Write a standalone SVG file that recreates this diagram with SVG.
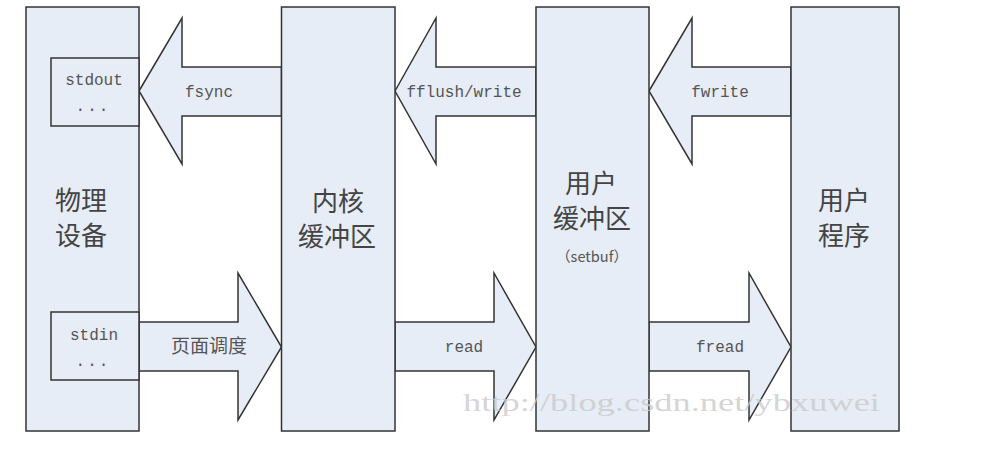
<svg xmlns="http://www.w3.org/2000/svg" width="982" height="456" viewBox="0 0 982 456">
<style>
.box{fill:#e6edf6;stroke:#333;stroke-width:1.5}
.arr{fill:#e6edf6;stroke:#333;stroke-width:1.5;stroke-linejoin:miter}
.lat{font-family:"Liberation Mono",monospace;font-size:16px;fill:#555;text-anchor:middle}
.cjk{font-family:"Noto Sans CJK SC",sans-serif;font-size:26px;fill:#444;text-anchor:middle}
.cjks{font-family:"Noto Sans CJK SC",sans-serif;font-size:19px;fill:#555;text-anchor:middle}
.sb{font-family:"Noto Sans CJK SC",sans-serif;font-size:14.6px;fill:#555;text-anchor:middle}
.wm{font-family:"Liberation Serif",serif;font-size:26px;fill:#cacaca;fill-opacity:0.8}
</style>
<rect width="982" height="456" fill="#fff"/>
<g id="connectors">
<g id="fsync">
<polygon class="arr" points="139,91 182,18 182,67 281.5,67 281.5,116 182,116 182,164"/>
<text class="lat" x="209" y="97">fsync</text>
</g>
<g id="fflush">
<polygon class="arr" points="395,91 436,18 436,67 536,67 536,116 436,116 436,164"/>
<text class="lat" x="464" y="97">fflush/write</text>
</g>
<g id="fwrite">
<polygon class="arr" points="649,91 692,18 692,67 791,67 791,116 692,116 692,164"/>
<text class="lat" x="720" y="97">fwrite</text>
</g>
<g id="paging">
<polygon class="arr" points="139,322 238,322 238,273 281.5,347 238,420 238,371 139,371"/>
<text class="cjks" x="209" y="353">页面调度</text>
</g>
<g id="read">
<polygon class="arr" points="395,322 494,322 494,273 536,347 494,420 494,371 395,371"/>
<text class="lat" x="464" y="352">read</text>
</g>
<g id="fread">
<polygon class="arr" points="649,322 749,322 749,273 791,347 749,420 749,371 649,371"/>
<text class="lat" x="720" y="352">fread</text>
</g>
</g>
<g id="device">
<rect class="box" x="26" y="7" width="113" height="424"/>
<rect class="box" x="51" y="58" width="88" height="68"/>
<text class="lat" x="94" y="85">stdout</text>
<text class="lat" x="93" y="111" letter-spacing="2">...</text>
<rect class="box" x="51" y="312" width="88" height="68"/>
<text class="lat" x="94" y="340">stdin</text>
<text class="lat" x="93" y="366" letter-spacing="2">...</text>
<text class="cjk"><tspan x="81" y="209.5">物理</tspan><tspan x="81" y="244.5">设备</tspan></text>
</g>
<g id="kernel">
<rect class="box" x="281.5" y="7" width="113.5" height="424"/>
<text class="cjk"><tspan x="338" y="210.5">内核</tspan><tspan x="337" y="245.5">缓冲区</tspan></text>
</g>
<g id="userbuf">
<rect class="box" x="536" y="7" width="113" height="424"/>
<text class="cjk"><tspan x="591" y="193">用户</tspan><tspan x="592" y="228">缓冲区</tspan></text>
<text class="sb" x="592" y="262">（setbuf）</text>
</g>
<g id="userprog">
<rect class="box" x="791" y="7" width="108" height="424"/>
<text class="cjk"><tspan x="844" y="209.5">用户</tspan><tspan x="844" y="244.5">程序</tspan></text>
</g>
<text class="wm" x="463" y="411" textLength="417" lengthAdjust="spacingAndGlyphs">http://blog.csdn.net/ybxuwei</text>
</svg>
